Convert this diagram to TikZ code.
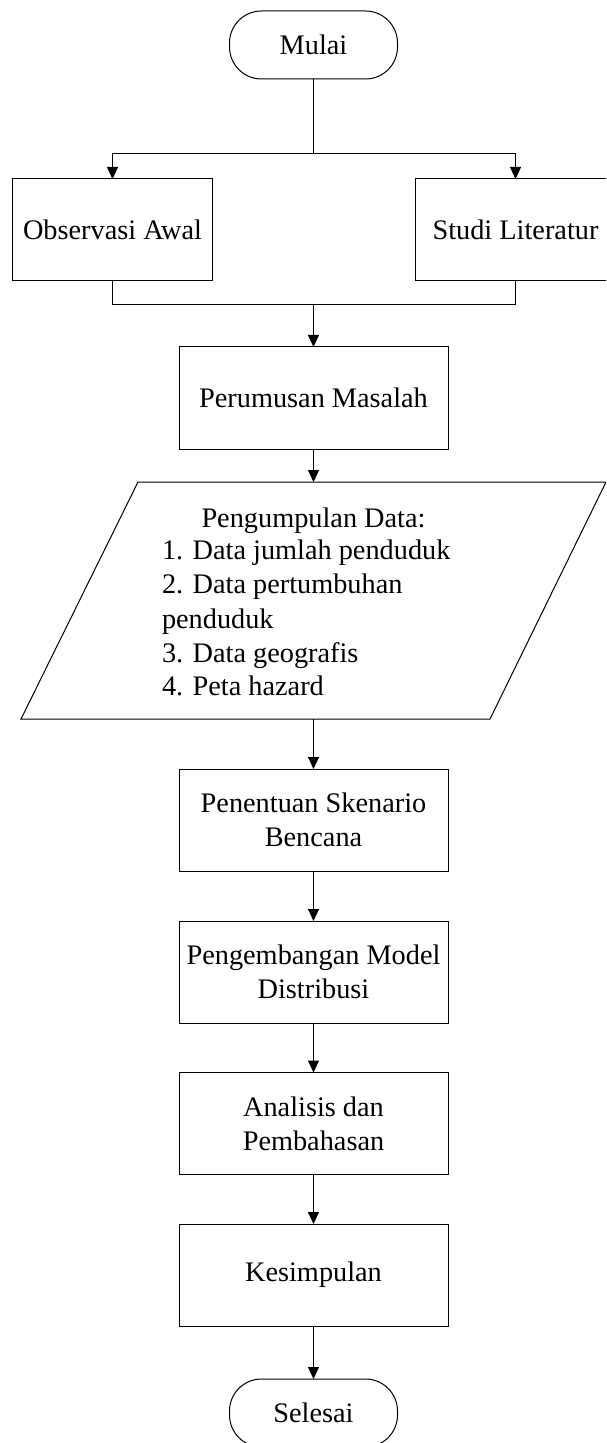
\documentclass[tikz,border=0pt]{standalone}
\usepackage{fontspec}
\setmainfont{Liberation Serif}
\usetikzlibrary{arrows.meta}
\begin{document}
\begin{tikzpicture}[x=0.5pt,y=-0.5pt,
  line width=0.5pt,
  every node/.style={font=\fontsize{14.15pt}{17pt}\selectfont, inner sep=2pt, outer sep=0pt},
  proc/.style={draw, rectangle, minimum width=134.5pt, minimum height=51pt, align=center},
  sideproc/.style={draw, rectangle, minimum width=100pt, minimum height=51pt, align=center},
  term/.style={draw, rectangle, rounded corners=16pt, minimum width=84pt, minimum height=34pt},
  arr/.style={-{Triangle[length=6pt,width=5.5pt]}}
]
\useasboundingbox (0,0) rectangle (606,1443);
\clip (0,0) rectangle (606,1443);

% nodes
\node[term] (mulai) at (313.5,45) {Mulai};
\node[sideproc] (obs) at (112.5,230) {Observasi Awal};
\node[sideproc] (studi) at (515.5,230) {Studi Literatur};
\node[proc] (rumus) at (313.5,398) {Perumusan Masalah};

\node[draw=none, minimum width=292.5pt, minimum height=118.5pt, inner sep=0pt] (data) at (313.5,600.5) {};
\draw (data.south west) -- ([xshift=58.5pt]data.north west) -- (data.north east) -- ([xshift=-58pt]data.south east) -- cycle;
\node[anchor=base] (dhead) at (313.5,527) {Pengumpulan Data:};
\node[anchor=base west] (d1) at (158,559) {1. Data jumlah penduduk};
\node[anchor=base west] (d2) at (158,593) {2. Data pertumbuhan};
\node[anchor=base west] (d3) at (158,628) {penduduk};
\node[anchor=base west] (d4) at (158,662) {3. Data geografis};
\node[anchor=base west] (d5) at (158,695) {4. Peta hazard};

\node[proc] (skenario) at (313.5,820) {Penentuan Skenario\\Bencana};
\node[proc] (model) at (313.5,972) {Pengembangan Model\\Distribusi};
\node[proc] (analisis) at (313.5,1123.5) {Analisis dan\\Pembahasan};
\node[proc] (simpul) at (313.5,1275) {Kesimpulan};
\node[term] (selesai) at (313.5,1413) {Selesai};

% connectors
\coordinate (split) at (313.5,154);
\coordinate (merge) at (313.5,305);
\draw (mulai.south) -- (split);
\draw[arr] (split) -| (obs.north);
\draw[arr] (split) -| (studi.north);
\draw (obs.south) |- (merge);
\draw (studi.south) |- (merge);
\draw[arr] (merge) -- (rumus.north);
\draw[arr] (rumus.south) -- (data.north);
\draw[arr] (data.south) -- (skenario.north);
\draw[arr] (skenario.south) -- (model.north);
\draw[arr] (model.south) -- (analisis.north);
\draw[arr] (analisis.south) -- (simpul.north);
\draw[arr] (simpul.south) -- (selesai.north);
\end{tikzpicture}
\end{document}
